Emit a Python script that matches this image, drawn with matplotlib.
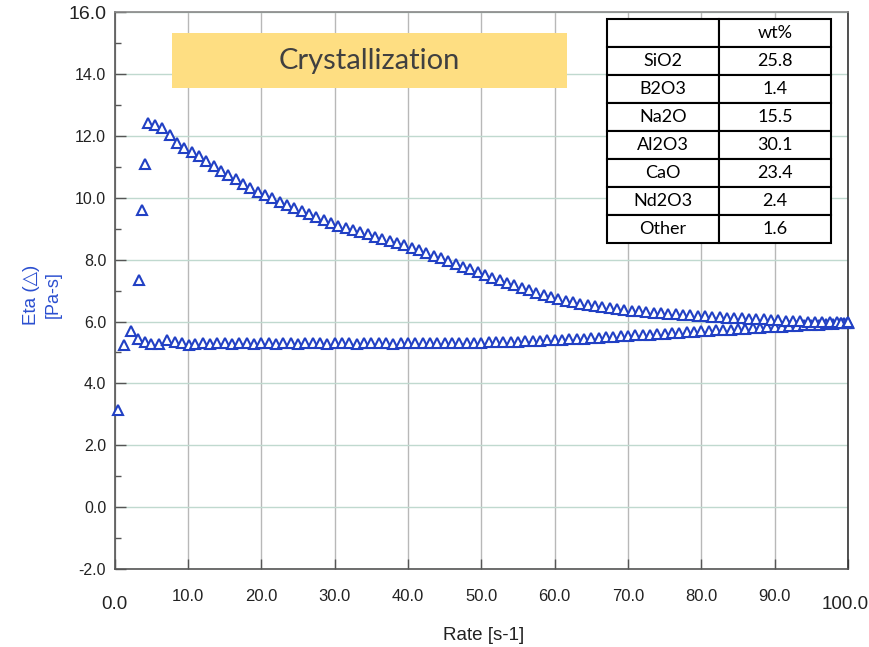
import matplotlib
matplotlib.use("Agg")
import matplotlib.pyplot as plt
from matplotlib import font_manager
from matplotlib.patches import Rectangle

# ramp up (lower branch) : shear rate [1/s] and viscosity [Pa-s]
rate_up = [0.5, 1.3, 2.2, 3.2, 4.1, 5.0, 6.1, 7.1, 8.2, 9.2, 10.2,
           11, 12, 13, 14, 15, 16, 17, 18, 19, 20,
           21, 22, 23, 24, 25, 26, 27, 28, 29, 30,
           31, 32, 33, 34, 35, 36, 37, 38, 39, 40,
           41, 42, 43, 44, 45, 46, 47, 48, 49, 50,
           51, 52, 53, 54, 55, 56, 57, 58, 59, 60,
           61, 62, 63, 64, 65, 66, 67, 68, 69, 70,
           71, 72, 73, 74, 75, 76, 77, 78, 79, 80,
           81, 82, 83, 84, 85, 86, 87, 88, 89, 90,
           91, 92, 93, 94, 95, 96, 97, 98, 99, 100]
eta_up = [3.15, 5.23, 5.70, 5.43, 5.35, 5.28, 5.27, 5.40, 5.35, 5.32, 5.25,
          5.29, 5.30, 5.29, 5.30, 5.30, 5.29, 5.30, 5.30, 5.29, 5.30,
          5.30, 5.29, 5.30, 5.30, 5.29, 5.30, 5.30, 5.30, 5.29, 5.30,
          5.30, 5.30, 5.29, 5.30, 5.30, 5.30, 5.30, 5.29, 5.30, 5.30,
          5.30, 5.30, 5.31, 5.30, 5.31, 5.31, 5.31, 5.32, 5.32, 5.32,
          5.33, 5.33, 5.34, 5.34, 5.35, 5.36, 5.37, 5.38, 5.39, 5.40,
          5.41, 5.42, 5.44, 5.45, 5.46, 5.48, 5.49, 5.51, 5.52, 5.54,
          5.55, 5.57, 5.58, 5.60, 5.61, 5.63, 5.64, 5.66, 5.67, 5.69,
          5.70, 5.72, 5.73, 5.74, 5.76, 5.77, 5.78, 5.80, 5.81, 5.82,
          5.84, 5.85, 5.86, 5.88, 5.89, 5.90, 5.92, 5.93, 5.94, 5.96]

# ramp down (upper branch)
rate_dn = [3.3, 3.7, 4.2, 4.6,
           5.5, 6.5, 7.5, 8.5, 9.5,
           10.5, 11.5, 12.5, 13.5, 14.5, 15.5, 16.5, 17.5, 18.5, 19.5,
           20.5, 21.5, 22.5, 23.5, 24.5, 25.5, 26.5, 27.5, 28.5, 29.5,
           30.5, 31.5, 32.5, 33.5, 34.5, 35.5, 36.5, 37.5, 38.5, 39.5,
           40.5, 41.5, 42.5, 43.5, 44.5, 45.5, 46.5, 47.5, 48.5, 49.5,
           50.5, 51.5, 52.5, 53.5, 54.5, 55.5, 56.5, 57.5, 58.5, 59.5,
           60.5, 61.5, 62.5, 63.5, 64.5, 65.5, 66.5, 67.5, 68.5, 69.5,
           70.5, 71.5, 72.5, 73.5, 74.5, 75.5, 76.5, 77.5, 78.5, 79.5,
           80.5, 81.5, 82.5, 83.5, 84.5, 85.5, 86.5, 87.5, 88.5, 89.5,
           90.5, 91.5, 92.5, 93.5, 94.5, 95.5, 96.5, 97.5, 98.5, 99.5,
           99.0, 99.8, 100.0, 100.0]
eta_dn = [7.35, 9.62, 11.10, 12.43,
          12.35, 12.27, 12.03, 11.76, 11.60,
          11.47, 11.35, 11.19, 11.03, 10.87, 10.74, 10.60, 10.44, 10.33, 10.18,
          10.08, 9.98, 9.88, 9.77, 9.67, 9.58, 9.47, 9.37, 9.29, 9.20,
          9.10, 9.03, 8.96, 8.89, 8.82, 8.75, 8.68, 8.61, 8.53, 8.46,
          8.38, 8.30, 8.22, 8.13, 8.04, 7.96, 7.87, 7.78, 7.69, 7.60,
          7.51, 7.42, 7.34, 7.25, 7.17, 7.09, 7.01, 6.93, 6.86, 6.79,
          6.73, 6.67, 6.62, 6.57, 6.53, 6.49, 6.46, 6.43, 6.40, 6.37,
          6.35, 6.33, 6.31, 6.29, 6.27, 6.25, 6.24, 6.22, 6.21, 6.19,
          6.18, 6.16, 6.15, 6.13, 6.12, 6.11, 6.09, 6.08, 6.07, 6.05,
          6.04, 6.03, 6.02, 6.01, 6.00, 5.99, 5.98, 5.97, 5.97, 5.96,
          5.95, 5.96, 5.95, 5.97]

# composition table
oxides = ["SiO2", "B2O3", "Na2O", "Al2O3", "CaO", "Nd2O3", "Other"]
wt_pct = ["25.8", "1.4", "15.5", "30.1", "23.4", "2.4", "1.6"]

x_ticks = [0, 10, 20, 30, 40, 50, 60, 70, 80, 90, 100]
y_ticks = [-2, 0, 2, 4, 6, 8, 10, 12, 14, 16]

installed = {f.name for f in font_manager.fontManager.ttflist}
narrow = "Liberation Sans Narrow" if "Liberation Sans Narrow" in installed else "Liberation Sans"
blue = "#2140c4"

fig = plt.figure(figsize=(8.69, 6.47), dpi=100)
ax = fig.add_axes([0.1318, 0.1206, 0.844, 0.8604])
ax.set_xlim(0, 100)
ax.set_ylim(-2, 16)
ax.set_axisbelow(True)

ax.plot(rate_up, eta_up, ls="none", marker="^", ms=7.5, mfc="white",
        mec=blue, mew=1.5, zorder=3, clip_on=False)
ax.plot(rate_dn, eta_dn, ls="none", marker="^", ms=7.5, mfc="white",
        mec=blue, mew=1.5, zorder=3, clip_on=False)

# grid and ticks
ax.set_xticks(x_ticks)
ax.set_yticks(y_ticks)
ax.set_yticks([v + 1 for v in y_ticks[:-1]], minor=True)
ax.grid(axis="x", color="#b8b8b8", lw=1.0)
ax.grid(axis="y", which="major", color="#c0d9cf", lw=1.0)
ax.set_yticklabels([f"{v:.1f}" for v in y_ticks], family="Liberation Sans",
                   fontsize=11.5, color="#222222")
ax.get_yticklabels()[-1].set_fontsize(14)
ax.tick_params(axis="y", which="major", direction="in", length=8, width=1.0,
               color="#555555", pad=6)
ax.tick_params(axis="y", which="minor", direction="in", length=4, width=1.0,
               color="#555555")
ax.tick_params(axis="x", direction="in", length=7, width=1.0, color="#555555",
               labelbottom=False)
for side in ["left", "bottom", "right", "top"]:
    ax.spines[side].set_color("#555555")
    ax.spines[side].set_linewidth(1.2)
ax.spines["right"].set_color("#333333")
ax.spines["top"].set_color("#888888")

# x tick labels: end values larger and lower
xt = ax.get_xaxis_transform()
for v in x_ticks:
    if v in (0, 100):
        ax.text(v - 0.4 * (v == 100), -0.063, f"{v:.1f}", transform=xt,
                ha="center", va="center", family="Liberation Sans",
                fontsize=13.5, color="#222222", clip_on=False)
    else:
        ax.text(v, -0.049, f"{v:.1f}", transform=xt, ha="center", va="center",
                family=narrow, fontsize=12, color="#222222", clip_on=False)

fig.text(484 / 869, 1 - 636 / 647, "Rate [s-1]", ha="center", va="center",
         family="Liberation Sans", fontsize=13.5, color="#222222")
fig.text(32 / 869, 1 - 295 / 647, "Eta (\u25b3)", rotation=90, ha="center",
         va="center", family=["Liberation Sans", "DejaVu Sans"], fontsize=13.5,
         color="#2b4fd0")
fig.text(53 / 869, 1 - 295 / 647, "[Pa-s]", rotation=90, ha="center",
         va="center", family="Liberation Sans", fontsize=13, color="#2b4fd0")

# title box
ax.add_patch(Rectangle((0.0784, 0.864), 0.5385, 0.0988, transform=ax.transAxes,
                       fc="#fede82", ec="none", zorder=4))
ax.text(0.3477, 0.9134, "Crystallization", transform=ax.transAxes,
        ha="center", va="center", family="Lato", fontsize=21,
        color="#404040", zorder=5)

# composition table
cells = [["", "wt%"]] + [[o, w] for o, w in zip(oxides, wt_pct)]
tab = ax.table(cellText=cells, cellLoc="center",
               bbox=[0.6714, 0.5856, 0.3054, 0.4024], zorder=6)
tab.auto_set_font_size(False)
for (r, c), cell in tab.get_celld().items():
    cell.set_linewidth(1.5)
    cell.set_edgecolor("black")
    cell.set_facecolor("white")
    cell.get_text().set_fontfamily("Lato")
    cell.get_text().set_fontsize(13)

fig.savefig("out.png", dpi=100)
